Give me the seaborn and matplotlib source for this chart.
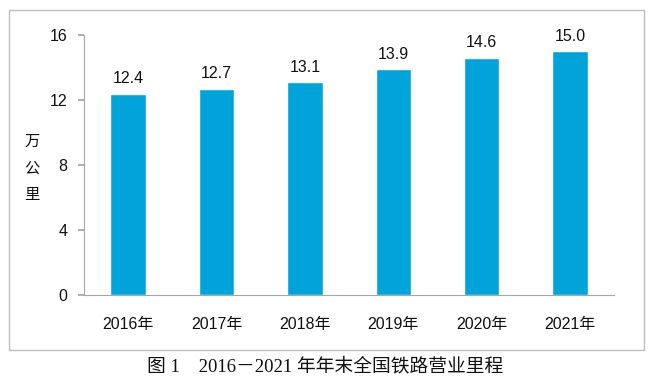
import matplotlib
matplotlib.use("Agg")
import matplotlib.pyplot as plt
import seaborn as sns
import pandas as pd
from matplotlib.patches import Rectangle

years = ["2016年", "2017年", "2018年", "2019年", "2020年", "2021年"]
values = [12.4, 12.7, 13.1, 13.9, 14.6, 15.0]
yticks = [0, 4, 8, 12, 16]
ylabel = "万\n公\n里"
caption = "图 1　2016－2021 年年末全国铁路营业里程"

sns.set_theme(style="white")
plt.rcParams['font.family'] = ['Liberation Sans', 'Noto Sans CJK SC', 'DejaVu Sans']

df = pd.DataFrame({"year": years, "value": values})

fig = plt.figure(figsize=(6.5, 3.8), dpi=100)
ax = fig.add_axes([84/650, 1-295/380, (614-84)/650, (295-35)/380])
sns.barplot(data=df, x="year", y="value", color="#00A3DA", saturation=1, width=0.4, ax=ax)

ax.set_ylim(0, 16)
ax.set_yticks(yticks)
ax.set_xlim(-0.5, len(years)-0.5)
for i, v in enumerate(values):
    ax.text(i, v + 0.45, f"{v:.1f}", ha="center", va="bottom", fontsize=11.5, color="#111111")

ax.set_xlabel("")
ax.set_ylabel("")
for s in ["top", "right"]:
    ax.spines[s].set_visible(False)
for s in ["left", "bottom"]:
    ax.spines[s].set_color("#A6A6A6")
    ax.spines[s].set_linewidth(0.8)
ax.tick_params(axis="y", which="both", left=True, length=4, color="#A6A6A6", labelsize=11.5, labelcolor="#111111", pad=8)
ax.tick_params(axis="x", bottom=False, labelsize=11.5, labelcolor="#111111", pad=10)

fig.text(32/650, 1-168/380, ylabel, ha="center", va="center", fontsize=11, linespacing=1.75,
         family=['Noto Sans CJK SC', 'DejaVu Sans'], color="#111111")

fig.patches.append(Rectangle((9/650, 1-350/380), (644-9)/650, (350-10)/380, transform=fig.transFigure,
                             fill=False, edgecolor="#BFBFBF", linewidth=1))
fig.text(0.5, 1-366/380, caption, ha="center", va="center", fontsize=13.5,
         family=['Liberation Serif', 'Noto Sans CJK SC', 'DejaVu Sans'], color="#111111")

fig.savefig("out.png", dpi=100)
